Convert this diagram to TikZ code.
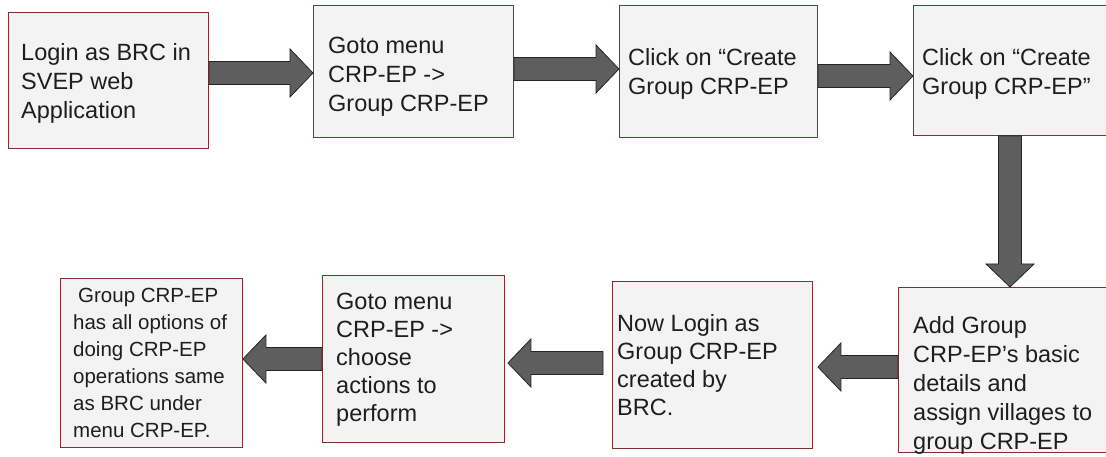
\documentclass[tikz,border=0pt]{standalone}
\usepackage{fontspec}
\setmainfont{Liberation Sans}
\usetikzlibrary{calc}
\definecolor{boxfill}{HTML}{F3F3F3}
\definecolor{boxline}{HTML}{7E3236}
\definecolor{arrfill}{HTML}{5E5E5E}
\definecolor{txt}{HTML}{1E1E1E}
\newcommand\fatarr[2]{%
  \coordinate (hb) at ($(#2)!23pt!(#1)$);
  \filldraw[fatarrow] ($(#1)!11.5pt!90:(#2)$) -- ($(hb)!11.5pt!90:(#2)$) -- ($(hb)!24pt!90:(#2)$) -- (#2) -- ($(hb)!24pt!-90:(#2)$) -- ($(hb)!11.5pt!-90:(#2)$) -- ($(#1)!11.5pt!-90:(#2)$) -- cycle;}
\begin{document}
\begin{tikzpicture}[x=1pt,y=-1pt,
  box/.style={draw=boxline, fill=boxfill, line width=0.9pt, anchor=north west, inner sep=0pt},
  fatarrow/.style={fill=arrfill, draw=black!85, line width=0.8pt, line join=miter},
  lbl/.style={anchor=west, align=left, inner sep=0pt, text=txt, font=\fontsize{23.5}{29}\selectfont},
  lblb/.style={lbl, font=\fontsize{23.5}{28}\selectfont},
  lblsmall/.style={lbl, font=\fontsize{20.5}{27}\selectfont}]
\useasboundingbox (0,0) rectangle (1106,457);
\fill[white] (0,0) rectangle (1106,457);
% top row
\node[box, minimum width=200pt, minimum height=136pt] (b1) at (8,12) {};
\node[box, minimum width=200pt, minimum height=132pt] (b2) at (313,5) {};
\node[box, minimum width=198pt, minimum height=132pt] (b3) at (619,5) {};
\node[box, minimum width=220pt, minimum height=130pt] (b4) at (913,5) {};
% bottom row
\node[box, minimum width=182pt, minimum height=169pt] (b5) at (60,278) {};
\node[box, minimum width=182pt, minimum height=167pt] (b6) at (322,275) {};
\node[box, minimum width=200pt, minimum height=167pt] (b7) at (612,281) {};
\node[box, minimum width=220pt, minimum height=165pt] (b8) at (898,287) {};
% texts
\node[lbl] (t1) at ($(b1.west)+(13,3)$) {Login as BRC in\\SVEP web\\Application};
\node[lbl] (t2) at ($(b2.west)+(15,5)$) {Goto menu\\CRP-EP ->\\Group CRP-EP};
\node[lbl] (t3) at ($(b3.west)+(9,2)$) {Click on “Create\\Group CRP-EP};
\node[lbl] (t4) at ($(b4.west)+(9,3)$) {Click on “Create\\Group CRP-EP”};
\node[lblsmall] (t5) at ($(b5.west)+(13,0)$) {\hspace{5pt}Group CRP-EP\\has all options of\\doing CRP-EP\\operations same\\as BRC under\\menu CRP-EP.};
\node[lblb] (t6) at ($(b6.west)+(14,1)$) {Goto menu\\CRP-EP ->\\choose\\actions to\\perform};
\node[lblb] (t7) at ($(b7.west)+(5,0)$) {Now Login as\\Group CRP-EP\\created by\\BRC.};
\node[lblb, anchor=north west, font=\fontsize{23.5}{29}\selectfont] (t8) at ($(b8.north west)+(15,29)$) {Add Group\\CRP-EP’s basic\\details and\\assign villages to\\group CRP-EP};
% level helpers
\coordinate (y73) at (0,73);
\coordinate (y69) at (0,69);
\coordinate (y76) at (0,76);
\coordinate (y359) at (0,359);
\coordinate (y363) at (0,363);
\coordinate (y367) at (0,367);
\coordinate (x1010) at (1010,0);
% arrows
\coordinate (a1s) at (b1.east |- y73);
\coordinate (a1e) at (b2.west |- y73);
\fatarr{a1s}{a1e}
\coordinate (a2s) at (b2.east |- y69);
\coordinate (a2e) at (b3.west |- y69);
\fatarr{a2s}{a2e}
\coordinate (a3s) at (b3.east |- y76);
\coordinate (a3e) at (b4.west |- y76);
\fatarr{a3s}{a3e}
\coordinate (a4s) at (x1010 |- b4.south);
\coordinate (a4e) at (x1010 |- b8.north);
\fatarr{a4s}{a4e}
\coordinate (a5s) at (b6.west |- y359);
\coordinate (a5e) at (b5.east |- y359);
\fatarr{a5s}{a5e}
\coordinate (a6s) at ($(b7.west |- y363)+(-9,0)$);
\coordinate (a6e) at ($(b6.east |- y363)+(3,0)$);
\fatarr{a6s}{a6e}
\coordinate (a7s) at (b8.west |- y367);
\coordinate (a7e) at ($(b7.east |- y367)+(5,0)$);
\fatarr{a7s}{a7e}
\end{tikzpicture}
\end{document}
